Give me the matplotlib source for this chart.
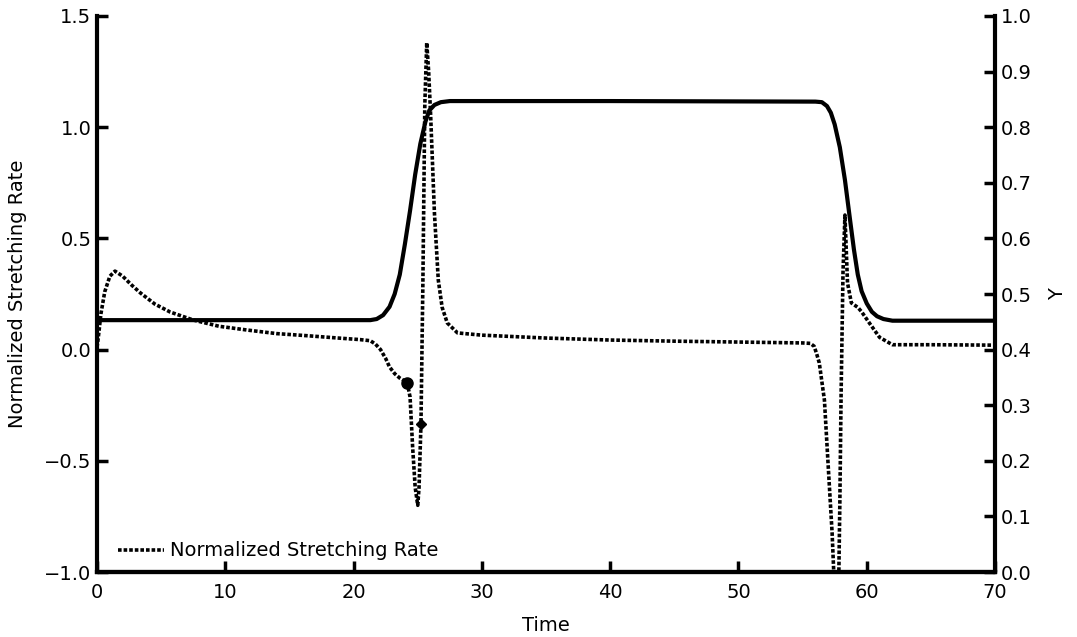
import numpy as np
import matplotlib
matplotlib.use("Agg")
import matplotlib.pyplot as plt

# normalized stretching rate (left axis)
t_rate = [0.0, 0.15, 0.3, 0.6, 1.0, 1.4, 2.0, 2.7, 3.4, 4.5, 5.7, 7.5, 9.5, 11.7,
          14.0, 16.5, 18.8, 20.5, 21.3, 21.7, 22.1, 22.5, 22.8, 23.2, 23.6, 24.0,
          24.2, 24.4, 24.6, 24.8, 25.0, 25.1, 25.25, 25.4, 25.55, 25.7, 25.85,
          26.0, 26.3, 26.6, 26.9, 27.3, 28.1, 30.0, 35.0, 40.0, 45.0, 50.0, 55.0,
          55.6, 55.9, 56.1, 56.3, 56.7, 57.0, 57.3, 57.5, 57.65, 57.8, 57.9, 58.0,
          58.15, 58.3, 58.5, 58.8, 59.3, 59.6, 60.2, 61.0, 62.0, 65.0, 70.0]
rate = [0.01, 0.08, 0.16, 0.26, 0.33, 0.353, 0.33, 0.29, 0.254, 0.205, 0.169, 0.133,
        0.105, 0.088, 0.072, 0.062, 0.052, 0.045, 0.040, 0.025, 0.0, -0.04,
        -0.078, -0.108, -0.128, -0.142, -0.155, -0.213, -0.438, -0.62, -0.70,
        -0.62, -0.335, 0.3, 1.1, 1.38, 1.25, 1.06, 0.614, 0.313, 0.19, 0.12,
        0.075, 0.065, 0.052, 0.043, 0.038, 0.034, 0.030, 0.028, 0.015, -0.02,
        -0.06, -0.227, -0.528, -0.825, -1.1, -1.3, -1.1, -0.7, -0.2, 0.35, 0.605,
        0.30, 0.21, 0.19, 0.17, 0.12, 0.055, 0.022, 0.022, 0.02]

# Y (right axis)
t_y = [0.0, 10.0, 21.3, 21.8, 22.3, 22.8, 23.2, 23.6, 24.0, 24.4, 24.8, 25.2,
       25.6, 25.9, 26.3, 26.8, 27.5, 40.0, 56.0, 56.5, 56.9, 57.2, 57.5, 57.9,
       58.3, 58.7, 59.0, 59.3, 59.6, 60.0, 60.4, 60.8, 61.3, 62.0, 70.0]
y_val = [0.453, 0.453, 0.453, 0.455, 0.462, 0.477, 0.50, 0.535, 0.59, 0.65,
         0.715, 0.77, 0.81, 0.83, 0.840, 0.845, 0.847, 0.847, 0.846, 0.845,
         0.838, 0.826, 0.805, 0.764, 0.705, 0.633, 0.58, 0.535, 0.505, 0.483,
         0.468, 0.46, 0.455, 0.452, 0.452]

# marked points on the rate curve
mark_circle = (24.2, -0.15)
mark_diamond = (25.25, -0.335)

plt.rcParams['font.family'] = ['DejaVu Sans']
plt.rcParams['font.size'] = 14

fig = plt.figure(figsize=(10.77, 6.37), dpi=100)
ax = fig.add_axes([0.0901, 0.102, 0.8338, 0.8729])
ax2 = ax.twinx()

ax.plot(t_rate, rate, color='black', lw=2.6, linestyle=(0, (1.0, 0.55)),
        label='Normalized Stretching Rate')
ax.plot(*mark_circle, 'o', color='black', ms=8)
ax.plot(*mark_diamond, 'D', color='black', ms=5)
ax2.plot(t_y, y_val, color='black', lw=3)

ax.set_xlim(0, 70)
ax.set_ylim(-1.0, 1.5)
ax2.set_ylim(0.0, 1.0)
ax.set_xticks(np.arange(0, 71, 10))
ax.set_yticks([-1.0, -0.5, 0.0, 0.5, 1.0, 1.5])
ax2.set_yticks(np.arange(0, 1.01, 0.1))
ax2.set_yticklabels([f"{v:.1f}" for v in np.arange(0, 1.01, 0.1)])
ax.set_yticklabels(['\u22121.0', '\u22120.5', '0.0', '0.5', '1.0', '1.5'])

for a in (ax, ax2):
    a.spines['top'].set_visible(False)
    for s in a.spines.values():
        s.set_linewidth(3)
    a.tick_params(direction='in', length=8, width=2.5, labelsize=14, pad=4)
ax.tick_params(axis='x', pad=8)
ax2.spines['left'].set_visible(False)
ax.spines['right'].set_visible(False)

ax.set_xlabel('Time', fontsize=14, labelpad=10)
ax.set_ylabel('Normalized Stretching Rate', fontsize=14, labelpad=12)
ax2.set_ylabel('Y', fontsize=14, labelpad=12)

ax.legend(loc='lower left', frameon=False, fontsize=14, handlelength=2.4,
          handletextpad=0.3, borderaxespad=0.2, bbox_to_anchor=(0.01, 0.0))

fig.savefig('out.png', dpi=100)
